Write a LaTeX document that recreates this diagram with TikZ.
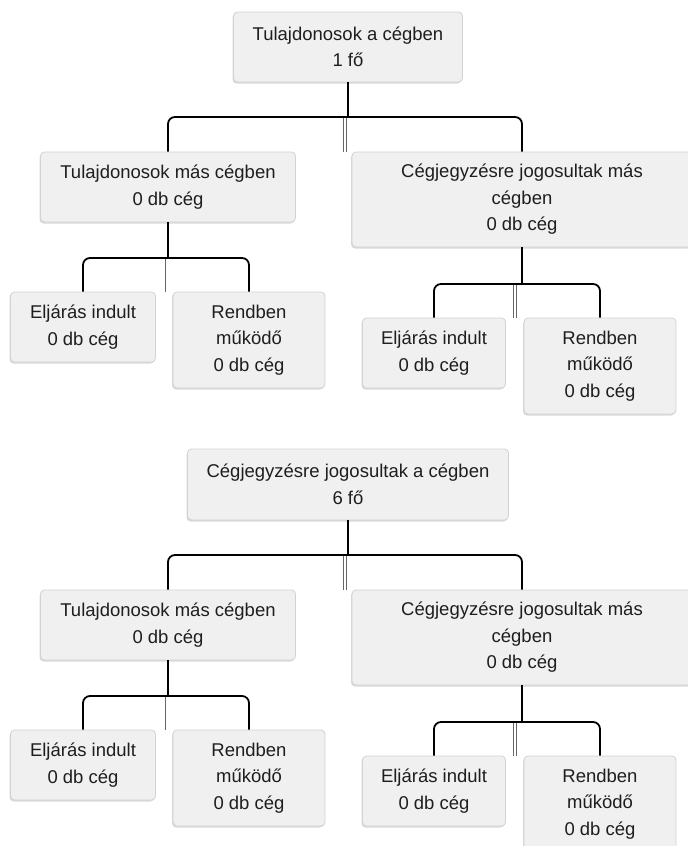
\documentclass[tikz,border=0pt]{standalone}
\usepackage{fontspec}
\setmainfont{Liberation Sans}
\usetikzlibrary{shadows,calc}
\definecolor{boxfill}{HTML}{F0F0F0}
\definecolor{boxline}{HTML}{D2D2D2}
\definecolor{txt}{HTML}{1E1E1E}
\begin{document}
\begin{tikzpicture}[x=1pt,y=-1pt,
  box/.style={draw=boxline, line width=0.8pt, fill=boxfill, rounded corners=4pt,
    align=center, text=txt, font=\fontsize{18.5}{26.5}\selectfont, inner sep=0pt,
    drop shadow={shadow xshift=-1pt, shadow yshift=-1.5pt, fill=black, opacity=0.15}},
  edge/.style={draw=black, line width=1.8pt, rounded corners=7pt},
  midline/.style={draw=gray!80!black, line width=0.9pt}]
\useasboundingbox (0,0) rectangle (688,846);

% ---------- first tree ----------
\node[box, minimum width=229pt, minimum height=70pt] (r1) at (348,47) {Tulajdonosok a cégben\\1 fő};
\node[box, minimum width=255pt, minimum height=70pt] (a) at (168,187) {Tulajdonosok más cégben\\0 db cég};
\node[box, minimum width=340pt, minimum height=95pt] (b) at (522,199.5) {Cégjegyzésre jogosultak más\\cégben\\0 db cég};
\node[box, minimum width=145pt, minimum height=70pt] (a1) at (83,327) {Eljárás indult\\0 db cég};
\node[box, minimum width=152pt, minimum height=96pt] (a2) at (249,340) {Rendben\\működő\\0 db cég};
\node[box, minimum width=143pt, minimum height=70pt] (b1) at (434,353) {Eljárás indult\\0 db cég};
\node[box, minimum width=152pt, minimum height=96pt] (b2) at (600,366) {Rendben\\működő\\0 db cég};

\coordinate (r1m) at (345,117);
\coordinate (am) at (165,258);
\coordinate (bm) at (515,284);

\draw[midline] ($(r1m)+(-1.2,0)$) -- ($(r1m |- a.north)+(-1.2,0)$);
\draw[midline] ($(r1m)+(1.2,0)$) -- ($(r1m |- a.north)+(1.2,0)$);
\draw[midline] (am) -- (am |- a1.north);
\draw[midline] ($(bm)+(-1.2,0)$) -- ($(bm |- b1.north)+(-1.2,0)$);
\draw[midline] ($(bm)+(1.2,0)$) -- ($(bm |- b1.north)+(1.2,0)$);

\draw[edge] (r1.south) -- (r1.south |- r1m);
\draw[edge] (r1m) -| (a.north);
\draw[edge] (r1m) -| (b.north);
\draw[edge] (a.south) -- (a.south |- am);
\draw[edge] (am) -| (a1.north);
\draw[edge] (am) -| (a2.north);
\draw[edge] (b.south) -- (b.south |- bm);
\draw[edge] (bm) -| (b1.north);
\draw[edge] (bm) -| (b2.north);

% ---------- second tree ----------
\node[box, minimum width=321pt, minimum height=71pt] (r2) at (348,484.5) {Cégjegyzésre jogosultak a cégben\\6 fő};
\node[box, minimum width=255pt, minimum height=70pt] (c) at (168,625) {Tulajdonosok más cégben\\0 db cég};
\node[box, minimum width=340pt, minimum height=95pt] (d) at (522,637.5) {Cégjegyzésre jogosultak más\\cégben\\0 db cég};
\node[box, minimum width=145pt, minimum height=70pt] (c1) at (83,765) {Eljárás indult\\0 db cég};
\node[box, minimum width=152pt, minimum height=96pt] (c2) at (249,778) {Rendben\\működő\\0 db cég};
\node[box, minimum width=143pt, minimum height=70pt] (d1) at (434,791) {Eljárás indult\\0 db cég};
\node[box, minimum width=152pt, minimum height=96pt] (d2) at (600,804) {Rendben\\működő\\0 db cég};

\coordinate (r2m) at (345,555);
\coordinate (cm) at (165,696);
\coordinate (dm) at (515,722);

\draw[midline] ($(r2m)+(-1.2,0)$) -- ($(r2m |- c.north)+(-1.2,0)$);
\draw[midline] ($(r2m)+(1.2,0)$) -- ($(r2m |- c.north)+(1.2,0)$);
\draw[midline] (cm) -- (cm |- c1.north);
\draw[midline] ($(dm)+(-1.2,0)$) -- ($(dm |- d1.north)+(-1.2,0)$);
\draw[midline] ($(dm)+(1.2,0)$) -- ($(dm |- d1.north)+(1.2,0)$);

\draw[edge] (r2.south) -- (r2.south |- r2m);
\draw[edge] (r2m) -| (c.north);
\draw[edge] (r2m) -| (d.north);
\draw[edge] (c.south) -- (c.south |- cm);
\draw[edge] (cm) -| (c1.north);
\draw[edge] (cm) -| (c2.north);
\draw[edge] (d.south) -- (d.south |- dm);
\draw[edge] (dm) -| (d1.north);
\draw[edge] (dm) -| (d2.north);
\end{tikzpicture}
\end{document}
